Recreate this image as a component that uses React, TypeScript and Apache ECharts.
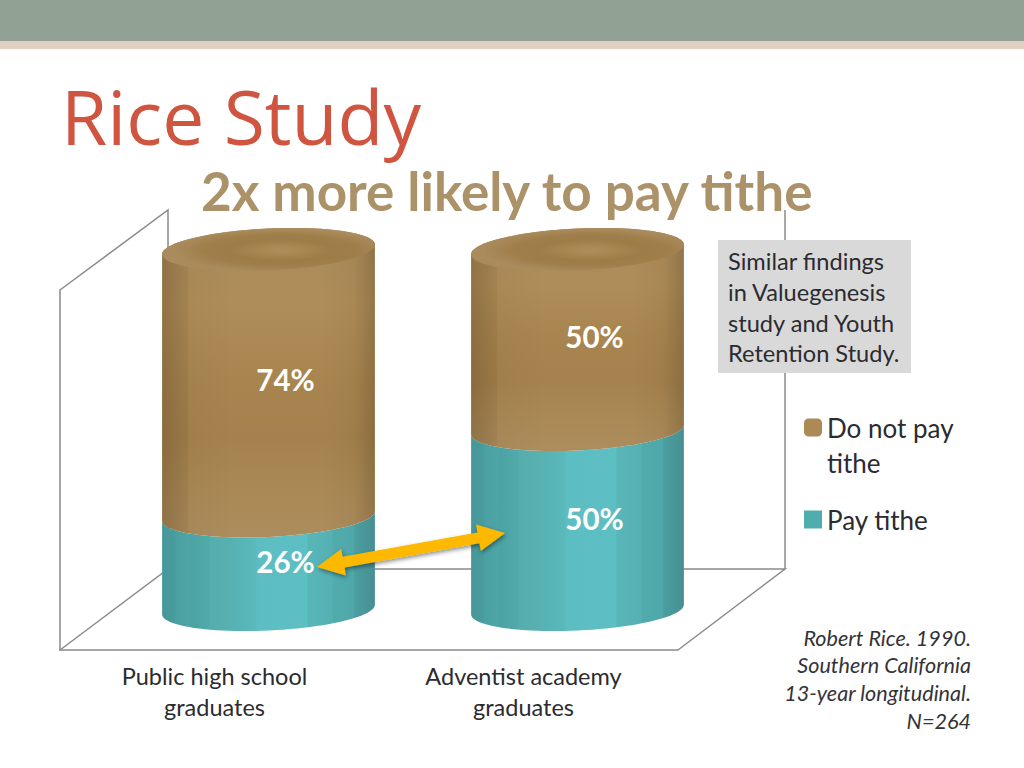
import React, { useEffect, useRef } from "react";
import * as echarts from "echarts";

const categories = ["Public high school\ngraduates", "Adventist academy\ngraduates"];
const payTithe = [26, 50];
const doNotPay = [74, 50];
const payName = "Pay tithe";
const notPayName = "Do not pay tithe";
const boxLines = ["Similar findings", "in Valuegenesis", "study and Youth", "Retention Study."];
const sourceLines = ["Robert Rice. 1990.", "Southern California", "13-year longitudinal.", "N=264"];

const DEPTH_X = 54;
const DEPTH_Y = -40.5;
const RY = 21;
const TILT = (2.7 * Math.PI) / 180;
const LABEL_FONT = "Lato";

function ellipsePts(cx: number, cy: number, rx: number, from: number, to: number, n = 48) {
  const pts: number[][] = [];
  for (let i = 0; i <= n; i++) {
    const t = from + ((to - from) * i) / n;
    const ex = rx * Math.cos(t);
    const ey = RY * Math.sin(t);
    pts.push([cx + ex * Math.cos(TILT) + ey * Math.sin(TILT), cy - ex * Math.sin(TILT) + ey * Math.cos(TILT)]);
  }
  return pts;
}

const L = (stops: [number, string][], vertical = false) =>
  new echarts.graphic.LinearGradient(0, 0, vertical ? 0 : 1, vertical ? 1 : 0,
    stops.map(([offset, color]) => ({ offset, color })));

const tealFill = () =>
  L([
    [0, "#479799"], [0.06, "#479c9d"], [0.065, "#4ba1a2"], [0.13, "#4ea5a6"], [0.135, "#4ca3a4"],
    [0.22, "#52a9aa"], [0.225, "#55adae"], [0.33, "#59b0b1"], [0.335, "#56b2b3"], [0.44, "#5ab9bb"],
    [0.445, "#5cbec2"], [0.68, "#5cbfc2"], [0.685, "#58b6b9"], [0.8, "#55b0b2"], [0.805, "#51abad"],
    [0.9, "#4fa7a9"], [0.905, "#4b9ea0"], [1, "#468f93"],
  ]);
const brownFill = () =>
  L([
    [0, "#a8895b"], [0.12, "#ac8c5a"], [0.25, "#af8d58"], [0.5, "#a8854f"], [0.68, "#a5824d"],
    [0.85, "#aa8956"], [1, "#ad8d5d"],
  ], true);
const edgeShade = () =>
  L([
    [0, "rgba(50,35,10,0.24)"], [0.12, "rgba(50,35,10,0.1)"], [0.125, "rgba(50,35,10,0.04)"], [0.35, "rgba(50,35,10,0)"],
    [0.75, "rgba(50,35,10,0)"], [0.9, "rgba(50,35,10,0.05)"], [1, "rgba(50,35,10,0.22)"],
  ]);
const capFill = () =>
  new echarts.graphic.RadialGradient(0.56, 0.52, 0.5, [
    { offset: 0, color: "#af8d5a" }, { offset: 0.22, color: "#a98750" }, { offset: 0.48, color: "#9e7c47" },
    { offset: 0.72, color: "#a07e4a" }, { offset: 1, color: "#a98b5c" },
  ]);

const renderCylinder = (isTop: boolean) => (params: any, api: any) => {
  const cat = api.value(0);
  const from = api.value(1);
  const to = api.value(2);
  const a = api.coord([cat, from]);
  const b = api.coord([cat, to]);
  const band = api.size([1, 0])[0];
  const rx = band * 0.3447;
  const cx = a[0] + DEPTH_X;
  const y0 = a[1] + DEPTH_Y;
  const y1 = b[1] + DEPTH_Y;
  const lower = ellipsePts(cx, y0, rx, Math.PI, 0);
  const upper = isTop ? ellipsePts(cx, y1, rx, 0, -Math.PI) : ellipsePts(cx, y1, rx, 0, Math.PI);
  const silhouette = lower.concat(upper);
  const children: any[] = [
    { type: "polygon", shape: { points: silhouette }, style: { fill: isTop ? brownFill() : tealFill() } },
  ];
  if (isTop) {
    children.push({ type: "polygon", shape: { points: silhouette }, style: { fill: edgeShade() } });
    children.push({
      type: "polygon",
      shape: { points: ellipsePts(cx, y1, rx, 0, Math.PI * 2, 72) },
      style: { fill: capFill() },
    });
  }
  children.push({
    type: "text",
    style: {
      text: `${to - from}%`,
      x: cx + 17,
      y: (y0 + y1) / 2 - (isTop ? 3 : 1),
      align: "center",
      verticalAlign: "middle",
      fill: "#ffffff",
      font: `bold 29.5px ${LABEL_FONT}`,
    },
  });
  return { type: "group", children };
};

function arrowPoints(x1: number, y1: number, x2: number, y2: number) {
  const len = Math.hypot(x2 - x1, y2 - y1);
  const ux = (x2 - x1) / len, uy = (y2 - y1) / len;
  const nx = -uy, ny = ux;
  const h = 27, hw = 13.5, sw = 5.5;
  const p = (d: number, o: number) => [x1 + ux * d + nx * o, y1 + uy * d + ny * o];
  return [p(0, 0), p(h, hw), p(h, sw), p(len - h, sw), p(len - h, hw), p(len, 0), p(len - h, -hw), p(len - h, -sw), p(h, -sw), p(h, -hw)];
}

export default function App() {
  const ref = useRef<HTMLDivElement>(null);
  useEffect(() => {
    const chart = echarts.init(ref.current!, undefined, { renderer: "svg" });
    const frame = { stroke: "#8a8a8a", lineWidth: 1.5, fill: "none" };
    chart.setOption({
      animation: false,
      backgroundColor: "#ffffff",
      title: [
        {
          text: "Rice Study", left: 56, top: 73,
          textStyle: { fontFamily: "Open Sans", fontSize: 75, fontWeight: "normal", color: "#cf5541" },
        },
        {
          text: "2x more likely to pay tithe", left: 196, top: 159,
          textStyle: { fontFamily: "Lato", fontSize: 53, fontWeight: "bold", color: "#ac9268" },
        },
      ],
      grid: { left: 60, width: 618, top: 290, height: 360 },
      xAxis: {
        type: "category",
        data: categories,
        axisLine: { lineStyle: { color: "#8a8a8a", width: 1.5 } },
        axisTick: { show: false },
        axisLabel: { fontFamily: "Lato", fontSize: 23.5, lineHeight: 31, color: "#2b2b30", margin: 10 },
      },
      yAxis: {
        type: "value", min: 0, max: 100, interval: 20,
        axisLine: { show: true, lineStyle: { color: "#8a8a8a", width: 1.5 } },
        axisTick: { show: false }, axisLabel: { show: false }, splitLine: { show: false },
      },
      legend: {
        orient: "vertical", left: 799, top: 370, itemWidth: 18, itemHeight: 18, itemGap: 22,
        data: [{ name: notPayName, icon: "roundRect" }, { name: payName, icon: "rect" }],
        textStyle: { fontFamily: "Lato", fontSize: 26, lineHeight: 35, color: "#2b2b30" },
        formatter: (n: string) => (n === notPayName ? " \nDo not pay\ntithe" : n),
        selectedMode: false,
      },
      series: [
        {
          name: payName, type: "custom", z: 3,
          itemStyle: { color: "#4fadad" },
          encode: { x: 0, y: [1, 2] },
          data: payTithe.map((v, i) => [i, 0, v]),
          renderItem: renderCylinder(false),
        },
        {
          name: notPayName, type: "custom", z: 4,
          itemStyle: { color: "#ad8a55" },
          encode: { x: 0, y: [1, 2] },
          data: doNotPay.map((v, i) => [i, payTithe[i], payTithe[i] + v]),
          renderItem: renderCylinder(true),
        },
      ],
      graphic: [
        { type: "rect", z: 0, x: 0, y: 0, shape: { x: 0, y: 0, width: 1024, height: 41 }, style: { fill: "#91a294" } },
        { type: "rect", z: 0, x: 0, y: 0, shape: { x: 0, y: 41, width: 1024, height: 8 }, style: { fill: "#dfd0c2" } },
        { type: "polyline", z: 0, shape: { points: [[60, 650], [168, 569], [785, 569], [678, 650]] }, style: frame },
        { type: "polyline", z: 0, shape: { points: [[60, 290], [168, 210], [168, 569]] }, style: frame },
        { type: "line", z: 0, shape: { x1: 785, y1: 210, x2: 785, y2: 569 }, style: frame },
        { type: "rect", z: 8, shape: { x: 718, y: 240, width: 193, height: 133 }, style: { fill: "#d9d9d9" } },
        {
          type: "text", z: 9, x: 728, y: 246,
          style: { text: boxLines.join("\n"), font: "23.6px Lato", lineHeight: 30.7, fill: "#2b2b30", align: "left", verticalAlign: "top" },
        },
        {
          type: "text", z: 9, x: 971, y: 624,
          style: { text: sourceLines.join("\n"), font: "italic 21.6px Lato", lineHeight: 27.6, fill: "#333338", align: "right", verticalAlign: "top" },
        },
        {
          type: "polygon", z: 10,
          shape: { points: arrowPoints(317, 567, 505, 533) },
          style: { fill: "#fdb900", shadowBlur: 4, shadowColor: "rgba(0,0,0,0.45)", shadowOffsetX: 1, shadowOffsetY: 2 },
        },
      ],
    });
    return () => chart.dispose();
  }, []);
  return <div ref={ref} style={{ position: "absolute", left: 0, top: 0, width: 1024, height: 768 }} />;
}
